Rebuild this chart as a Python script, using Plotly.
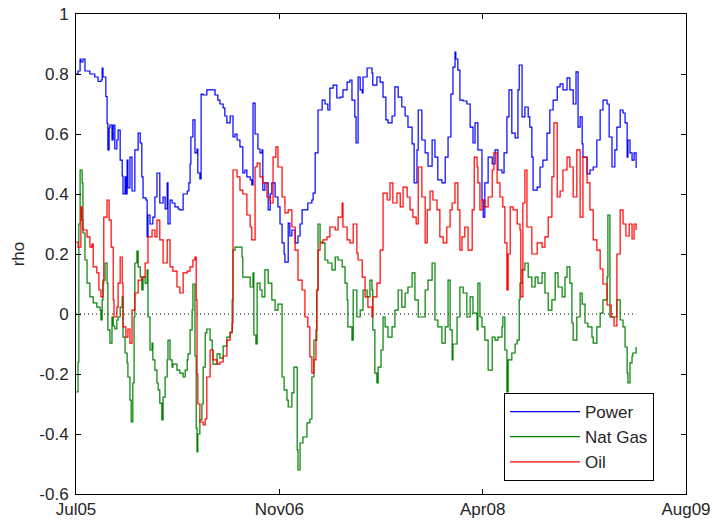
import plotly.graph_objects as go

# x values: days since 1 Jul 2005
power_days = [0,5,10,12,17,22,34,46,54,61,64,66,73,76,78,81,83,88,91,95,100,103,108,113,115,120,122,125,127,132,137,144,152,157,161,164,171,174,176,181,188,193,198,205,213,218,223,225,230,235,242,250,254,262,272,276,279,281,286,291,296,298,303,306,311,320,333,340,347,352,360,364,369,377,384,389,394,401,408,413,418,426,430,433,438,445,450,455,457,462,470,475,479,487,494,499,504,509,511,519,523,528,536,543,548,553,560,567,577,580,585,592,602,609,616,621,629,638,646,653,663,670,675,682,685,690,695,700,702,712,719,724,726,736,744,751,758,763,773,780,788,797,805,812,822,827,834,837,846,854,861,871,878,885,895,903,910,917,922,927,929,934,939,947,956,964,971,976,983,993,996,1000,1008,1018,1025,1032,1042,1047,1054,1059,1066,1074,1081,1084,1091,1098,1106,1110,1115,1118,1128,1135,1142,1152,1159,1167,1177,1184,1191,1201,1208,1216,1223,1228,1233,1238,1240,1250,1257,1265,1274,1282,1289,1299,1304,1311,1318,1323,1331,1338,1343,1348,1350,1355,1360,1365,1370]
power_rho = [0.80,0.81,0.85,0.84,0.85,0.81,0.80,0.79,0.775,0.78,0.82,0.79,0.725,0.635,0.547,0.62,0.63,0.58,0.63,0.55,0.58,0.613,0.513,0.46,0.40,0.457,0.40,0.513,0.42,0.523,0.41,0.547,0.603,0.57,0.457,0.387,0.38,0.257,0.33,0.30,0.323,0.39,0.47,0.37,0.39,0.35,0.437,0.30,0.38,0.37,0.357,0.35,0.347,0.40,0.41,0.437,0.50,0.59,0.647,0.537,0.55,0.47,0.45,0.733,0.73,0.747,0.747,0.73,0.713,0.70,0.687,0.66,0.637,0.66,0.59,0.60,0.58,0.557,0.47,0.48,0.457,0.447,0.43,0.703,0.60,0.55,0.537,0.547,0.413,0.437,0.347,0.40,0.437,0.39,0.357,0.30,0.237,0.20,0.173,0.303,0.26,0.28,0.237,0.26,0.30,0.347,0.347,0.37,0.38,0.403,0.537,0.68,0.713,0.70,0.68,0.753,0.763,0.72,0.723,0.747,0.773,0.78,0.713,0.657,0.57,0.79,0.747,0.737,0.79,0.82,0.82,0.803,0.763,0.79,0.773,0.723,0.647,0.637,0.66,0.757,0.723,0.69,0.66,0.623,0.567,0.437,0.547,0.68,0.58,0.537,0.493,0.58,0.523,0.447,0.437,0.523,0.59,0.733,0.823,0.873,0.85,0.813,0.713,0.71,0.70,0.623,0.57,0.637,0.547,0.38,0.323,0.437,0.523,0.50,0.547,0.48,0.47,0.537,0.657,0.747,0.603,0.587,0.747,0.83,0.657,0.69,0.657,0.623,0.523,0.413,0.423,0.49,0.513,0.603,0.68,0.713,0.757,0.767,0.747,0.787,0.747,0.70,0.807,0.623,0.657,0.567,0.523,0.467,0.48,0.49,0.58,0.68,0.713,0.70,0.59,0.49,0.547,0.623,0.68,0.67,0.637,0.523,0.58,0.537,0.513,0.537,0.487]

gas_days = [0,2,5,7,10,15,17,22,27,34,42,51,59,61,64,66,71,76,78,83,88,91,95,100,103,108,113,115,120,125,127,132,135,139,142,144,149,152,157,161,164,169,174,176,181,186,188,193,198,201,205,210,213,218,223,225,230,235,237,247,254,262,267,272,274,279,284,286,291,294,296,298,303,308,311,316,320,328,333,335,345,352,360,369,377,382,384,389,401,406,408,418,426,433,435,440,443,450,455,462,470,479,487,494,504,509,516,519,528,533,541,543,548,555,565,572,577,582,589,592,597,602,609,616,626,634,641,651,658,663,665,675,678,687,695,702,712,719,724,726,731,736,739,746,751,756,763,773,780,788,797,805,812,822,829,837,846,854,861,871,878,885,895,903,910,915,920,922,932,939,947,956,964,971,981,983,988,993,1000,1008,1018,1025,1032,1042,1044,1049,1054,1057,1066,1074,1079,1084,1086,1091,1098,1106,1115,1123,1130,1140,1147,1155,1164,1172,1179,1189,1196,1201,1208,1213,1216,1225,1233,1238,1245,1252,1262,1265,1274,1282,1289,1299,1301,1306,1314,1323,1331,1338,1343,1348,1350,1355,1360,1362,1370]
gas_rho = [-0.26,-0.26,-0.16,0.30,0.48,0.437,0.27,0.18,0.103,0.057,0.037,0.023,0.013,-0.02,0.047,0.113,0.17,0.103,-0.053,-0.097,-0.01,-0.04,-0.05,-0.02,-0.01,0.023,0.057,-0.077,-0.13,-0.163,-0.21,-0.287,-0.36,-0.23,-0.01,0.17,0.21,0.157,0.123,0.08,0.123,0.103,0.147,-0.01,-0.12,-0.097,-0.153,-0.187,-0.23,-0.253,-0.297,-0.353,-0.277,-0.21,-0.153,-0.087,-0.153,-0.177,-0.167,-0.187,-0.197,-0.21,-0.187,-0.153,-0.133,-0.053,0.013,0.10,-0.14,-0.38,-0.46,-0.40,-0.353,-0.30,-0.177,-0.063,-0.05,-0.087,-0.12,-0.167,-0.133,-0.147,-0.107,-0.077,-0.063,0.047,0.213,0.223,0.223,0.19,0.123,0.123,0.09,0.137,-0.07,-0.10,0.103,0.08,0.057,0.147,0.103,0.047,0.013,0.033,-0.21,-0.253,-0.287,-0.31,-0.263,-0.177,-0.453,-0.52,-0.43,-0.41,-0.363,-0.35,-0.21,-0.087,0.08,0.30,0.24,0.237,0.18,0.17,0.147,0.19,0.18,0.157,0.103,0.047,-0.043,-0.087,0.08,-0.01,0.013,0.08,0.057,0.113,0.08,-0.053,-0.197,-0.23,-0.177,-0.12,-0.01,-0.043,-0.077,-0.043,0.013,0.08,0.023,0.07,0.09,0.137,0.047,-0.01,-0.01,0.08,0.113,0.17,-0.02,-0.043,-0.097,-0.043,0.113,-0.053,-0.153,-0.10,-0.01,0.09,0.07,-0.01,0.057,0.003,-0.053,0.103,-0.01,-0.043,-0.087,-0.187,-0.077,-0.087,-0.077,-0.043,-0.01,-0.12,-0.26,-0.153,-0.13,-0.10,-0.087,0.047,0.103,0.147,0.17,0.123,0.09,0.123,0.103,0.137,0.07,0.013,0.047,0.137,0.09,0.057,0.123,0.157,0.103,-0.03,-0.087,-0.01,0.07,0.033,-0.03,-0.043,-0.077,-0.097,-0.043,0.003,0.047,0.123,0.33,-0.01,-0.01,0.047,-0.02,-0.043,-0.11,-0.197,-0.23,-0.163,-0.14,-0.13,-0.11]

oil_days = [0,5,12,15,17,27,34,39,42,51,56,61,66,68,76,81,86,91,93,100,103,108,113,115,122,127,132,137,144,152,161,169,176,186,193,198,205,213,223,230,237,247,254,262,272,279,286,291,294,296,298,303,311,316,320,328,335,345,352,360,369,377,382,384,394,401,408,418,426,430,438,443,450,457,467,475,482,489,494,504,511,519,528,536,543,553,560,567,572,577,582,587,589,592,597,604,614,621,634,641,651,653,663,670,678,687,690,700,707,714,724,726,736,744,751,761,768,775,785,793,800,810,817,824,832,837,846,854,859,866,873,883,890,898,907,915,920,927,934,939,944,951,959,969,974,981,983,988,993,1000,1008,1018,1022,1030,1037,1044,1049,1054,1057,1062,1069,1079,1086,1088,1093,1098,1103,1115,1128,1140,1147,1155,1164,1169,1177,1184,1191,1201,1208,1216,1225,1233,1240,1250,1257,1265,1274,1282,1289,1299,1309,1316,1323,1331,1338,1345,1353,1360,1365,1370]
oil_rho = [0.24,0.223,0.357,0.313,0.28,0.257,0.223,0.233,0.157,0.137,0.08,0.057,0.103,0.323,0.38,0.313,0.223,0.047,-0.01,0.023,0.103,0.19,0.103,-0.043,-0.077,-0.05,-0.097,0.013,0.07,0.113,0.123,0.17,0.257,0.28,0.257,0.313,0.247,0.17,0.247,0.157,0.143,0.09,0.07,0.137,0.143,0.157,0.18,0.19,0.047,-0.20,-0.30,-0.36,-0.37,-0.35,-0.21,-0.12,-0.153,-0.167,-0.16,-0.14,-0.087,-0.06,-0.03,0.48,0.457,0.413,0.40,0.33,0.29,0.247,0.49,0.503,0.457,0.437,0.39,0.37,0.523,0.557,0.49,0.39,0.337,0.347,0.29,0.213,0.113,0.08,-0.01,-0.043,-0.143,-0.197,-0.153,-0.053,0.08,0.213,0.237,0.247,0.257,0.29,0.28,0.323,0.37,0.29,0.247,0.237,0.30,0.203,0.18,0.123,0.057,0.023,-0.01,0.057,0.103,0.213,0.403,0.38,0.437,0.37,0.403,0.357,0.423,0.39,0.347,0.323,0.30,0.49,0.39,0.237,0.347,0.41,0.38,0.347,0.257,0.237,0.29,0.347,0.37,0.437,0.347,0.213,0.257,0.29,0.213,0.347,0.523,0.49,0.437,0.347,0.38,0.357,0.39,0.48,0.537,0.437,0.39,0.357,0.237,0.08,0.20,0.357,0.347,0.30,0.28,0.057,0.37,0.48,0.29,0.20,0.237,0.223,0.257,0.323,0.457,0.637,0.39,0.41,0.48,0.523,0.49,0.39,0.547,0.323,0.523,0.437,0.347,0.247,0.213,0.15,0.10,0.03,-0.01,-0.04,0.20,0.347,0.30,0.26,0.30,0.25,0.30,0.28]

zero_days = [0, 1370]
zero_rho = [0, 0]

x_tickvals = [0, 497.33, 994.67, 1492]
x_ticktext = ["Jul05", "Nov06", "Apr08", "Aug09"]
y_tickvals = [-0.6, -0.4, -0.2, 0, 0.2, 0.4, 0.6, 0.8, 1]
y_ticktext = ["-0.6", "-0.4", "-0.2", "0", "0.2", "0.4", "0.6", "0.8", "1"]

FONT = "Liberation Sans, Arial, sans-serif"
TXT = "#262626"

fig = go.Figure()
fig.add_trace(go.Scatter(x=zero_days, y=zero_rho, mode="lines", showlegend=False,
                         line=dict(color="black", width=1, dash="1px,3px"), hoverinfo="skip"))
fig.add_trace(go.Scatter(x=power_days, y=power_rho, mode="lines", name="Power",
                         line=dict(color="#0000ff", width=1.2, shape="hv")))
fig.add_trace(go.Scatter(x=gas_days, y=gas_rho, mode="lines", name="Nat Gas",
                         line=dict(color="#008000", width=1.2, shape="hv")))
fig.add_trace(go.Scatter(x=oil_days, y=oil_rho, mode="lines", name="Oil",
                         line=dict(color="#ff0000", width=1.2, shape="hv")))

axis_common = dict(showgrid=False, zeroline=False, showline=True, linecolor="black",
                   linewidth=1, mirror="ticks", ticks="inside", ticklen=5, tickcolor="black",
                   automargin=False,
                   tickfont=dict(family=FONT, size=17, color=TXT))

fig.update_layout(
    width=713, height=521,
    margin=dict(l=76, r=27, t=14, b=27),
    paper_bgcolor="white", plot_bgcolor="white",
    font=dict(family=FONT, size=17, color=TXT),
    xaxis=dict(range=[0, 1492], tickvals=x_tickvals, ticktext=x_ticktext,
               ticklabelstandoff=0, **axis_common),
    yaxis=dict(range=[-0.6, 1], tickvals=y_tickvals, ticktext=y_ticktext,
               ticklabelstandoff=3,
               title=dict(text="rho", font=dict(family=FONT, size=17, color=TXT), standoff=10),
               **axis_common),
    legend=dict(x=0.9475, xanchor="right", y=0.027, yanchor="bottom",
                bgcolor="white", bordercolor="black", borderwidth=1,
                font=dict(family=FONT, size=17, color=TXT), itemwidth=70,
                tracegroupgap=0),
    showlegend=True,
)

fig.write_html("out.html")
